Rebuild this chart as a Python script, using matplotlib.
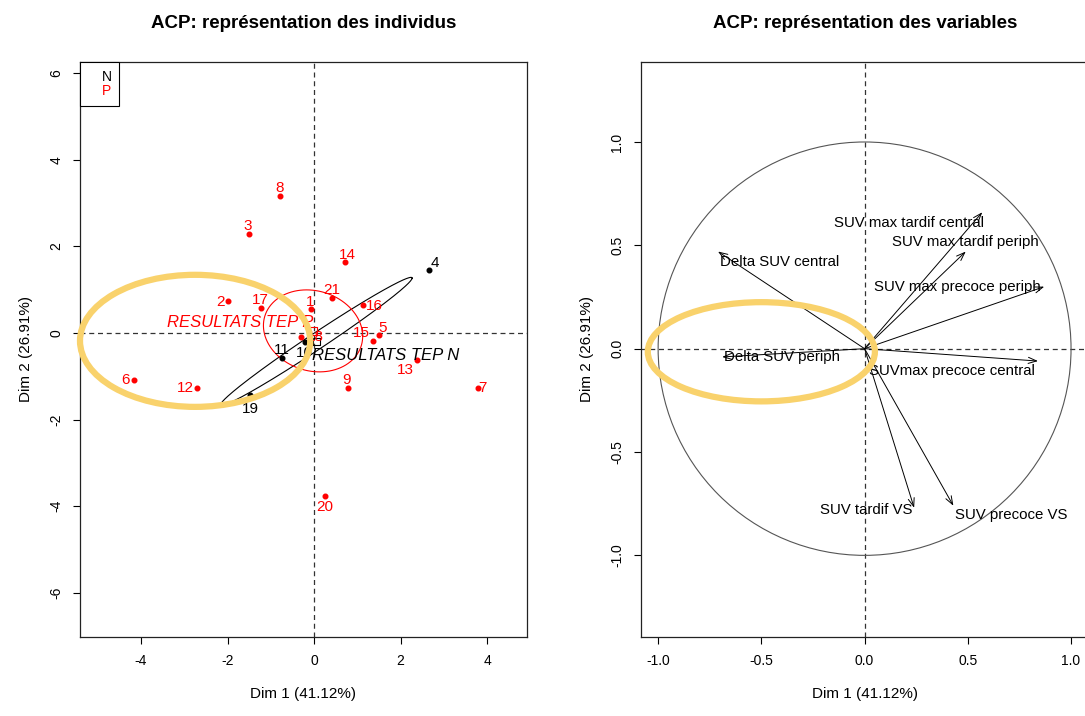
import numpy as np
import matplotlib
matplotlib.use('Agg')
import matplotlib.pyplot as plt
from matplotlib.patches import Ellipse, Circle
from matplotlib.lines import Line2D

plt.rcParams['font.family'] = ['Liberation Sans', 'DejaVu Sans']
plt.rcParams['axes.unicode_minus'] = False

# individus (coordonnees Dim 1 / Dim 2) et groupe RESULTATS TEP
ind_labels = [str(i) for i in range(1, 22)]
ind_x = [-0.07, -1.98, -1.50, 2.65, 1.49, -4.17, 3.78, -0.78, 0.78, -0.21, -0.75,
         -2.70, 2.38, 0.72, 1.37, 1.13, -1.22, -0.31, -1.48, 0.25, 0.42]
ind_y = [0.55, 0.75, 2.28, 1.45, -0.04, -1.08, -1.26, 3.16, -1.28, -0.21, -0.58,
         -1.26, -0.63, 1.65, -0.18, 0.64, 0.57, -0.08, -1.43, -3.76, 0.82]
ind_group = ['P', 'P', 'P', 'N', 'P', 'P', 'P', 'P', 'P', 'N', 'N',
             'P', 'P', 'P', 'P', 'P', 'P', 'P', 'N', 'P', 'P']
groups = ['N', 'P']

# variables (correlations avec Dim 1 / Dim 2)
var_names = ['SUV max tardif central', 'SUV max tardif periph', 'SUV max precoce periph',
             'SUVmax precoce central', 'Delta SUV central', 'Delta SUV periph',
             'SUV tardif VS', 'SUV precoce VS']
var_x = [0.57, 0.49, 0.87, 0.84, -0.71, -0.69, 0.24, 0.43]
var_y = [0.66, 0.47, 0.30, -0.06, 0.47, -0.04, -0.77, -0.76]

dim1 = 'Dim 1 (41.12%)'
dim2 = 'Dim 2 (26.91%)'

col = {'N': 'black', 'P': '#ff0000'}
gold = '#f9d26c'

# decalage des etiquettes (px, vers le haut positif)
lab_off = {'1': (-1, 7), '2': (-8, -1), '3': (-1, 8), '4': (6, 7), '5': (4, 7),
           '6': (-8, 0), '7': (5, 0), '8': (-1, 8), '9': (-1, 8), '10': (-1, -11),
           '11': (0, 8), '12': (-12, 0), '13': (-12, -10), '14': (2, 7),
           '15': (-12, 8), '16': (11, -1), '17': (-1, 8), '18': (15, 0),
           '19': (0, -14), '20': (0, -11), '21': (-1, 8)}

fig = plt.figure(figsize=(10.85, 7.16), dpi=100)
ax1 = fig.add_axes([80/1085, 79/716, 447/1085, 575/716])
ax2 = fig.add_axes([641/1085, 79/716, 448/1085, 575/716])

for ax in (ax1, ax2):
    ax.axhline(0, ls=(0, (4, 3)), color='#333333', lw=0.9, zorder=1)
    ax.axvline(0, ls=(0, (4, 3)), color='#333333', lw=0.9, zorder=1)
    ax.tick_params(direction='out', length=5, width=0.8, labelsize=10, pad=7)
    for s in ax.spines.values():
        s.set_linewidth(0.9)
        s.set_color('#222222')

# ---- individus
ix = np.array(ind_x)
iy = np.array(ind_y)
ig = np.array(ind_group)
for g in groups:
    m = ig == g
    ax1.scatter(ix[m], iy[m], s=11, color=col[g], zorder=3)
for lab, x, y, g in zip(ind_labels, ind_x, ind_y, ind_group):
    dx, dy = lab_off[lab]
    ax1.annotate(lab, (x, y), xytext=(dx*0.72, dy*0.72), textcoords='offset points',
                 ha='center', va='center', color=col[g], fontsize=11, zorder=4)

# ellipses de confiance autour des barycentres
t = np.linspace(0, 2*np.pi, 200)
for g in groups:
    m = ig == g
    pts = np.column_stack([ix[m], iy[m]])
    mu = pts.mean(axis=0)
    cov = np.cov(pts.T) / m.sum() * 5.991
    L = np.linalg.cholesky(cov)
    e = mu[:, None] + L @ np.vstack([np.cos(t), np.sin(t)])
    ax1.plot(e[0], e[1], color=col[g], lw=0.8, zorder=2)
    ax1.scatter([mu[0]], [mu[1]], marker='s', s=30, facecolors='none',
                edgecolors=col[g], lw=0.8, zorder=3)
    if g == 'P':
        ax1.annotate('RESULTATS TEP P', mu, xytext=(0, 6), textcoords='offset points',
                     ha='right', va='center', color=col[g], style='italic', fontsize=12)
    else:
        ax1.annotate('RESULTATS TEP N', mu, xytext=(-3, -10), textcoords='offset points',
                     ha='left', va='center', color=col[g], style='italic', fontsize=12)

ax1.set_xlim(-5.41, 4.92)
ax1.set_ylim(-7.02, 6.26)
ax1.set_xticks([-4, -2, 0, 2, 4])
ax1.set_yticks([-6, -4, -2, 0, 2, 4, 6])
ax1.add_patch(Ellipse((-2.75, -0.18), 5.32, 3.05, fill=False, ec=gold, lw=4.5,
                      clip_on=False, zorder=5))

leg = ax1.legend(handles=[Line2D([], [], ls='none')]*2, labels=groups,
                 labelcolor=[col[g] for g in groups], loc='upper left',
                 borderaxespad=0, fancybox=False, edgecolor='black', framealpha=1,
                 handlelength=0.6, handletextpad=0.4, borderpad=0.55,
                 labelspacing=0.05, fontsize=10)
leg.get_frame().set_linewidth(0.8)

# ---- variables
ax2.add_patch(Circle((0, 0), 1, fill=False, ec='#555555', lw=0.8))
for x, y in zip(var_x, var_y):
    ax2.annotate('', xy=(x, y), xytext=(0, 0),
                 arrowprops=dict(arrowstyle='->,head_length=0.6,head_width=0.22',
                                 color='black', lw=0.7, shrinkA=0, shrinkB=0))
var_pos = {'SUV max tardif central': ('right', 'center', 2, -11),
           'SUV max tardif periph': ('center', 'center', 0, 10),
           'SUV max precoce periph': ('right', 'center', -3, 0),
           'SUVmax precoce central': ('right', 'center', -3, -10),
           'Delta SUV central': ('left', 'center', 2, -10),
           'Delta SUV periph': ('left', 'center', 2, 0),
           'SUV tardif VS': ('right', 'center', -2, -2),
           'SUV precoce VS': ('left', 'center', 2, -9)}
for n, x, y in zip(var_names, var_x, var_y):
    ha, va, dx, dy = var_pos[n]
    ax2.annotate(n, (x, y), xytext=(dx*0.72, dy*0.72), textcoords='offset points',
                 ha=ha, va=va, fontsize=10.8)

ax2.set_xlim(-1.083, 1.087)
ax2.set_ylim(-1.395, 1.387)
ax2.set_xticks([-1.0, -0.5, 0.0, 0.5, 1.0])
ax2.set_yticks([-1.0, -0.5, 0.0, 0.5, 1.0])
ax2.set_xticklabels(['-1.0', '-0.5', '0.0', '0.5', '1.0'])
ax2.set_yticklabels(['-1.0', '-0.5', '0.0', '0.5', '1.0'])
ax2.add_patch(Ellipse((-0.50, -0.015), 1.10, 0.48, fill=False, ec=gold, lw=4.5,
                      clip_on=False, zorder=5))

for ax in (ax1, ax2):
    for lab in ax.get_yticklabels():
        lab.set_rotation(90)
        lab.set_va('center')
    ax.set_xlabel(dim1, fontsize=11, labelpad=14)
    ax.set_ylabel(dim2, fontsize=11, labelpad=12)

fig.text(303.5/1085, 1 - 24/716, 'ACP: représentation des individus', ha='center',
         va='center', fontsize=13.5, fontweight='bold')
fig.text(865/1085, 1 - 24/716, 'ACP: représentation des variables', ha='center',
         va='center', fontsize=13.5, fontweight='bold')

fig.savefig('out.png', dpi=100)
